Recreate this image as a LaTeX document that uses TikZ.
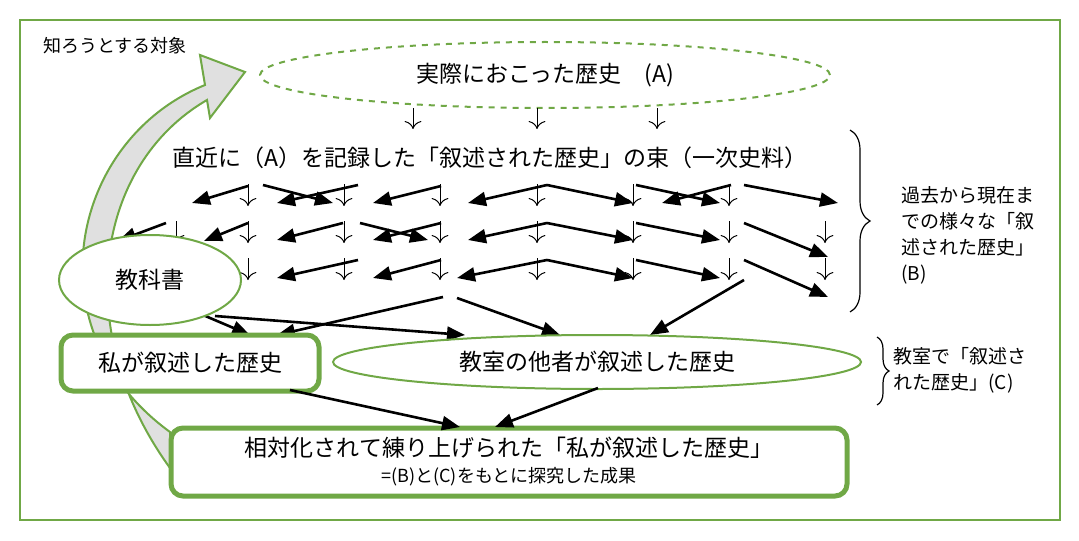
\documentclass[tikz,border=0pt]{standalone}
\usepackage{fontspec}
\setmainfont{Noto Sans CJK JP}
\usetikzlibrary{arrows.meta,decorations.pathreplacing,shapes.geometric}
\definecolor{gr}{RGB}{112,168,70}
\begin{document}
\begin{tikzpicture}[x=0.5pt,y=-0.5pt,
 bar/.style={line width=1.3pt,-{Triangle[length=9pt,width=7pt]}},
 dn/.style={line width=0.5pt,-{To[length=4pt]}},
 box/.style={draw=gr,line width=2.5pt,rounded corners=6pt},
 lbl/.style={font=\fontsize{11.5}{13}\selectfont}]
\useasboundingbox (0,0) rectangle (1079,540);
\draw[gr,line width=1.2pt] (20,20) rectangle (1060,520);
% big curved arrow
\draw[gr,line width=1pt,fill=black!12] (170,432) .. controls (30,330) and (70,140) .. (205,85) -- (200,55) -- (245,72) -- (210,118) -- (207,100) .. controls (95,165) and (70,330) .. (170,468) -- cycle;
\node[font=\fontsize{9}{10}\selectfont] (obj) at (115,46) {知ろうとする対象};
\node[draw=gr,dashed,line width=1pt,ellipse,minimum width=285pt,minimum height=33pt,lbl] (A) at (545,75) {実際におこった歴史　(A)};
\node[lbl] (prim) at (490,158) {直近に（A）を記録した「叙述された歴史」の束（一次史料）};
\foreach \x in {413,537,657}{\coordinate (t\x) at (\x,108); \coordinate (b\x) at (\x,129); \draw[dn] (t\x)--(b\x);}
% down arrows
\foreach \x in {248,344,440,537,633,729}{\coordinate (p\x) at (\x,184); \coordinate (q\x) at (\x,206); \draw[dn] (p\x)--(q\x);}
\foreach \x in {176,248,344,440,537,633,729,825}{\coordinate (r\x) at (\x,221); \coordinate (s\x) at (\x,243); \draw[dn] (r\x)--(s\x);}
\foreach \x in {248,344,440,537,633,729,825}{\coordinate (u\x) at (\x,258); \coordinate (v\x) at (\x,280); \draw[dn] (u\x)--(v\x);}
% slanted arrows
\foreach \a/\b/\c/\d in {248/186/192/203, 263/185/333/203, 358/185/277/203, 441/186/373/203, 547/185/468/203, 547/185/633/203, 636/185/720/203, 731/185/662/203, 744/185/838/203,
 166/223/118/241, 248/223/204/241, 343/223/277/240, 360/223/428/240, 441/223/373/240, 547/223/468/240, 547/223/633/240, 636/223/720/240, 744/223/828/257,
 358/260/277/278, 441/260/373/278, 547/260/457/278, 547/260/633/278, 636/260/720/278, 744/260/828/297,
 203/315/250/335, 215/316/465/335, 443/297/277/335, 457/298/560/335, 744/280/650/335}
 {\coordinate (s) at (\a,\b); \coordinate (e) at (\c,\d); \draw[bar] (s)--(e);}
\node[draw=gr,line width=1pt,ellipse,minimum width=91pt,minimum height=45pt,fill=white,lbl] (tb) at (150,280) {教科書};
\node[box,minimum width=129pt,minimum height=28pt,fill=white,lbl] (me) at (190,363) {私が叙述した歴史};
\node[draw=gr,line width=1pt,ellipse,minimum width=264pt,minimum height=27pt,lbl] (oth) at (597,362) {教室の他者が叙述した歴史};
\node[box,minimum width=338pt,minimum height=34pt,align=center,font=\fontsize{11.5}{15}\selectfont] (res) at (509,462) {相対化されて練り上げられた「私が叙述した歴史」\\[-2pt]{\fontsize{9}{10}\selectfont =(B)と(C)をもとに探究した成果}};
\coordinate (m1) at (290,390); \coordinate (m2) at (460,427); \draw[bar] (m1)--(m2);
\coordinate (o1) at (598,388); \coordinate (o2) at (495,427); \draw[bar] (o1)--(o2);
% braces
\coordinate (b1) at (850,130); \coordinate (b2) at (850,312);
\draw[line width=0.6pt,decorate,decoration={brace,amplitude=10pt}] (b1)--(b2);
\node[font=\fontsize{9.5}{13}\selectfont,align=left] (B) at (968,235) {過去から現在ま\\での様々な「叙\\述された歴史」\\(B)};
\coordinate (c1) at (877,337); \coordinate (c2) at (877,405);
\draw[line width=0.6pt,decorate,decoration={brace,amplitude=6pt}] (c1)--(c2);
\node[font=\fontsize{9.5}{13}\selectfont,align=left] (C) at (960,370) {教室で「叙述さ\\れた歴史」(C)};
\end{tikzpicture}
\end{document}
